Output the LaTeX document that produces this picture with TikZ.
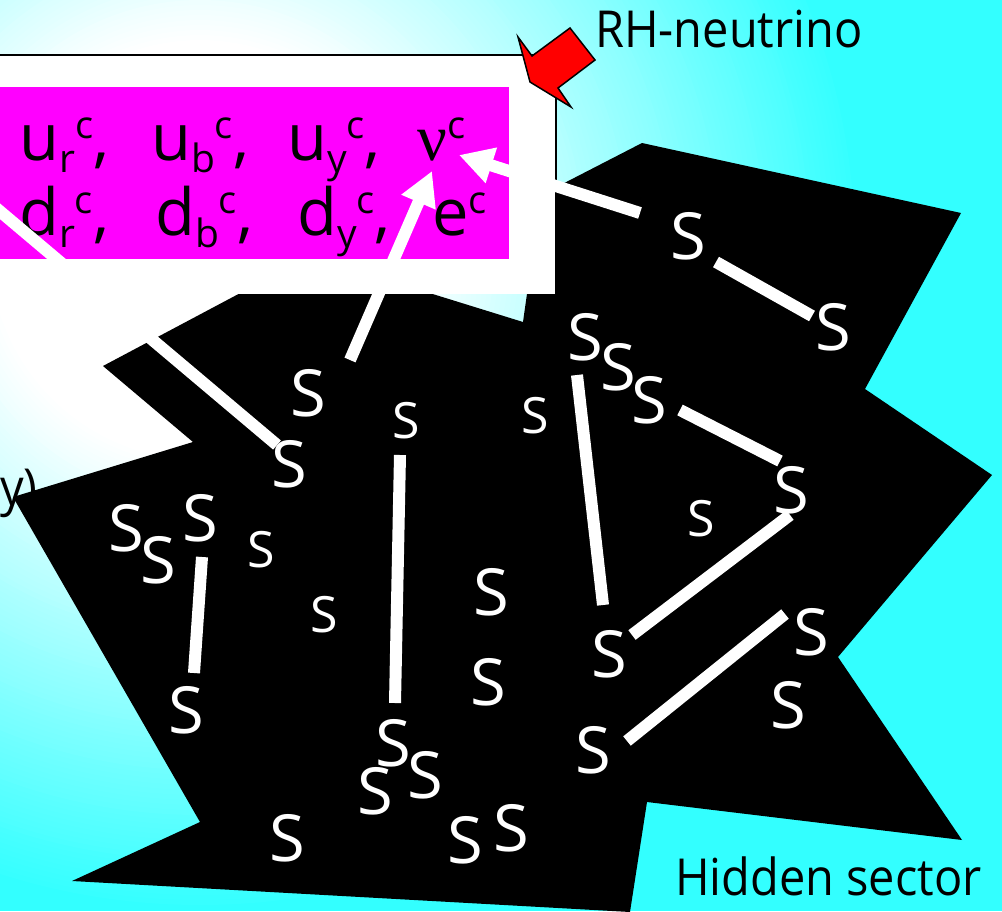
\documentclass[tikz,border=0pt]{standalone}
\usepackage{fontspec}
\setmainfont{Open Sans}
\newfontfamily\capfont[FakeStretch=0.92]{Open Sans}
\newfontfamily\greekfont{Liberation Serif}
\usetikzlibrary{arrows.meta}

\definecolor{bgcyan}{RGB}{51,255,255}
\definecolor{boxmag}{RGB}{255,0,255}
\definecolor{arrowred}{RGB}{255,0,0}

% sub- and superscripts of the fermion labels
\newcommand\lsub[1]{\raisebox{-12pt}{\fontsize{39}{39}\selectfont #1}}
\newcommand\lsup{\raisebox{22pt}{\fontsize{38}{38}\selectfont c}}

\tikzset{
  bigS/.style={text=white, inner sep=0pt, font=\fontsize{65}{65}\selectfont},
  smallS/.style={text=white, inner sep=0pt, font=\fontsize{50}{50}\selectfont},
  link/.style={draw=white, line width=12pt},
  arrowlink/.style={link, -{Triangle[length=34pt,width=35pt]}},
  term/.style={anchor=base west, inner sep=0pt, font=\fontsize{65}{65}\selectfont},
  caption/.style={anchor=base west, inner sep=0pt, font=\capfont\fontsize{51}{51}\selectfont},
}

\begin{document}
\begin{tikzpicture}[x=1pt,y=-1pt]
\useasboundingbox (0,0) rectangle (1002,911);

% background: pale centre fading to cyan
\begin{scope}
  \clip (0,0) rectangle (1002,911);
  \fill[bgcyan] (0,0) rectangle (1002,911);
  \foreach \r in {660,655,...,210} {
    \pgfmathtruncatemacro\p{(\r-210)/4.5}
    \fill[bgcyan!\p!white] (200,250) circle[radius=\r pt];
  }
\end{scope}

% hidden sector region
\fill[black] (642,143) -- (961,213) -- (865,389) -- (992,475) -- (838,657)
  -- (962,840) -- (647,802) -- (630,912) -- (72,881) -- (200,822) -- (13,497)
  -- (193,442) -- (103,366) -- (310,256) -- (523,322) -- (541,195) -- cycle;

% multiplet box
\fill[white] (-10,55) rectangle (556,294);
\draw[line width=2pt] (-10,55) -- (556,55) -- (556,294);
\fill[boxmag] (-10,87) rectangle (509,259);

\node[term] (ur) at (19,160) {u\lsub{r}\lsup,};
\node[term] (ub) at (151,160) {u\lsub{b}\lsup,};
\node[term] (uy) at (287,160) {u\lsub{y}\lsup,};
\node[term] (nu) at (417,160) {{\greekfont\fontsize{66}{66}\selectfont ν}\lsup};
\node[term] (dr) at (19,235) {d\lsub{r}\lsup,};
\node[term] (db) at (155,235) {d\lsub{b}\lsup,};
\node[term] (dy) at (297,235) {d\lsub{y}\lsup,};
\node[term] (ec) at (432,235) {e\lsup};

\coordinate (nuA) at (459,155);
\coordinate (nuB) at (432,171);
\coordinate (vis) at (-30,186);

% hidden-sector states
\node[bigS] (sa) at (688,236) {S};
\node[bigS] (sb) at (833,327) {S};
\node[bigS] (sc) at (585,337) {S};
\node[bigS] (sd) at (618,367) {S};
\node[bigS] (se) at (649,400) {S};
\node[bigS] (sf) at (308,393) {S};
\node[bigS] (sg) at (289,464) {S};
\node[bigS] (sj) at (791,490) {S};
\node[bigS] (sl) at (126,528) {S};
\node[bigS] (sm) at (158,560) {S};
\node[bigS] (sn) at (200,518) {S};
\node[bigS] (sq) at (491,592) {S};
\node[bigS] (sr) at (488,682) {S};
\node[bigS] (ss) at (609,654) {S};
\node[bigS] (st) at (811,632) {S};
\node[bigS] (su) at (788,705) {S};
\node[bigS] (sv) at (593,750) {S};
\node[bigS] (sw) at (186,710) {S};
\node[bigS] (sx) at (393,743) {S};
\node[bigS] (sy) at (375,791) {S};
\node[bigS] (sz) at (425,775) {S};
\node[bigS] (s1) at (287,838) {S};
\node[bigS] (s2) at (465,840) {S};
\node[bigS] (s3) at (511,828) {S};
\node[smallS] (sh) at (406,421) {S};
\node[smallS] (si) at (535,416) {S};
\node[smallS] (sk) at (701,519) {S};
\node[smallS] (so) at (261,550) {S};
\node[smallS] (sp) at (324,615) {S};

% couplings
\draw[arrowlink] ([shift={(-48,-23)}]sa.center) -- (nuA);
\draw[arrowlink] ([shift={(42,-33)}]sf.center) -- (nuB);
\draw[link] (vis) -- ([shift={(-12,-19)}]sg.center);
\draw[link] ([shift={(-6,34)}]sh.center) -- ([shift={(2,-40)}]sx.center);
\draw[link] ([shift={(2,39)}]sn.center) -- ([shift={(8,-37)}]sw.center);
\draw[link] ([shift={(-8,38)}]sc.center) -- ([shift={(-6,-49)}]ss.center);
\draw[link] ([shift={(31,10)}]se.center) -- ([shift={(-11,-29)}]sj.center);
\draw[link] ([shift={(-1,25)}]sj.center) -- ([shift={(23,-19)}]ss.center);
\draw[link] ([shift={(-26,-18)}]st.center) -- ([shift={(34,-9)}]sv.center);
\draw[link] ([shift={(28,26)}]sa.center) -- ([shift={(-21,-11)}]sb.center);

% pointer to the right-handed neutrino
\draw[fill=arrowred, line width=1.5pt, line join=miter]
  (518,37) -- (532,56) -- (570,28) -- (595,60) -- (558,88) -- (571,107) -- (530,82) -- cycle;

\node[caption] (rh) at (595,47) {RH-neutrino};
\node[caption] (hs) at (675,895) {Hidden sector};
\node[caption, anchor=base east] (vs) at (38,505) {y)};
\end{tikzpicture}
\end{document}
